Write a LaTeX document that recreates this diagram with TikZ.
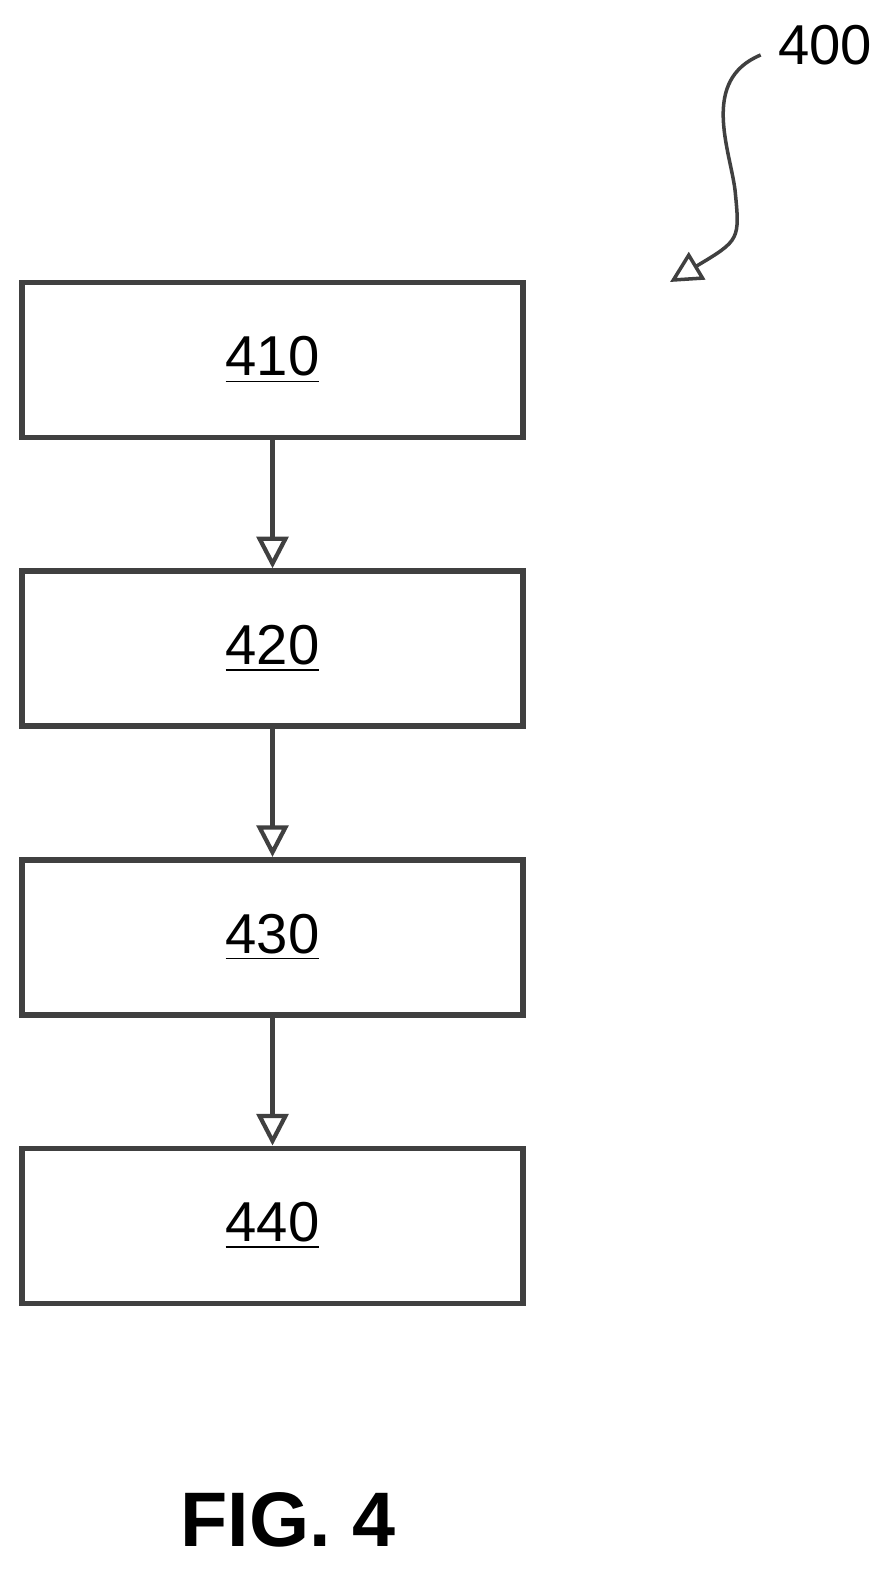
\documentclass[tikz,border=0pt]{standalone}
\usepackage{fontspec}
\setmainfont{Liberation Sans}
\usetikzlibrary{positioning,arrows.meta,decorations.pathmorphing}
\tikzstyle{stage} = [rectangle,minimum width=5.01cm,minimum height=1.55cm,
                     draw=black!75,line width=1.6pt,text centered]
\tikzstyle{arrow} = [line width=1.2pt,draw=black!75,-{Triangle[open,length=9pt,width=9pt]}]
\begin{document}
\begin{tikzpicture}[every node/.style={font=\fontsize{16}{18}\selectfont},node distance=1.28cm]
 \useasboundingbox (0,0) rectangle (8.96,-15.83);
 \node (S1) [stage] at (2.725,-3.6) {\underline{410}};
 \node (S2) [stage,below=of S1] {\underline{420}};
 \node (S3) [stage,below=of S2] {\underline{430}};
 \node (S4) [stage,below=of S3] {\underline{440}};
 \draw [arrow] (S1) -- (S2);
 \draw [arrow] (S2) -- (S3);
 \draw [arrow] (S3) -- (S4);
 \node (REF) at (8.25,-0.45) {400};
 \coordinate (END) at (6.7,-2.82);
 \draw [arrow,line width=1pt] (REF.west) ++(-0.05,-0.1) .. controls (7.0,-0.8) and (7.3,-1.5) .. (7.35,-1.9)
       .. controls (7.4,-2.4) .. (END);
 \node (FIG) at (2.88,-15.2) {\fontsize{22}{24}\selectfont\bfseries FIG. 4};
\end{tikzpicture}
\end{document}
